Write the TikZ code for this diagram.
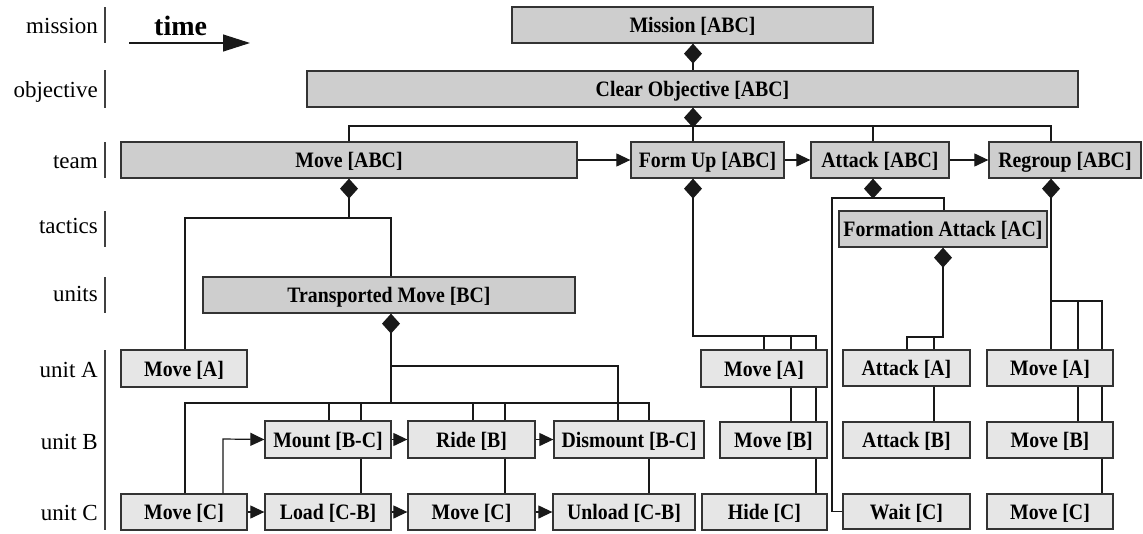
\documentclass[tikz,border=0pt]{standalone}
\usepackage{fontspec}
\setmainfont{Liberation Serif}
\newfontfamily\boxfont[FakeStretch=0.9]{Liberation Serif}
\usetikzlibrary{arrows.meta}
\definecolor{darkfill}{HTML}{CECECE}
\definecolor{lightfill}{HTML}{E6E6E6}
\definecolor{edge}{HTML}{333333}
\newcommand\mkbox[7]{\node[#6, minimum width={#4-#2}, minimum height={#5-#3}] (#1) at ({(#2+#4)/2},{(#3+#5)/2}) {#7};}
\begin{document}
\begin{tikzpicture}[x=1pt,y=-1pt,
  box/.style={draw=edge, line width=1.3pt, inner sep=0pt, text height=15pt, text depth=0pt, font=\boxfont\fontsize{22}{26}\selectfont\bfseries},
  dbox/.style={box, fill=darkfill},
  lbox/.style={box, fill=lightfill},
  conn/.style={line width=1.2pt, draw=black!90},
  dia/.style={conn, {Diamond[length=20pt,width=18pt]}-},
  arr/.style={conn, -{Triangle[length=14pt,width=13pt]}},
  lvl/.style={anchor=base east, inner sep=0pt, font=\fontsize{23}{26}\selectfont},
  lvlbar/.style={line width=1.6pt, draw=black!75}]
\useasboundingbox (0,0) rectangle (1143,533);

% level labels
\node[lvl] (lmission) at (98,33) {mission};
\node[lvl] (lobjective) at (98,97) {objective};
\node[lvl] (lteam) at (98,168) {team};
\node[lvl] (ltactics) at (98,233) {tactics};
\node[lvl] (lunits) at (98,301) {units};
\node[lvl] (lunitA) at (98,377) {unit A};
\node[lvl] (lunitB) at (98,449) {unit B};
\node[lvl] (lunitC) at (98,520) {unit C};
\draw[lvlbar] (105,7) -- (105,43);
\draw[lvlbar] (105,70) -- (105,108);
\draw[lvlbar] (105,142) -- (105,178);
\draw[lvlbar] (105,211) -- (105,247);
\draw[lvlbar] (105,277) -- (105,313);
\draw[lvlbar] (105,350) -- (105,530);

% time arrow
\node[anchor=base west, inner sep=0pt, font=\fontsize{28}{30}\selectfont\bfseries] (time) at (154,35) {time};
\coordinate (t0) at (129,43);
\coordinate (t1) at (250,43);
\draw[conn, -{Triangle[length=27pt,width=17pt]}] (t0) -- (t1);

% dark boxes
\mkbox{mission}{512}{7}{873}{43}{dbox}{Mission [ABC]}
\mkbox{clear}{307}{71}{1078}{107}{dbox}{Clear Objective [ABC]}
\mkbox{moveABC}{121}{142}{577}{178}{dbox}{Move [ABC]}
\mkbox{formup}{631}{142}{784}{178}{dbox}{Form Up [ABC]}
\mkbox{attackABC}{811}{142}{949}{178}{dbox}{Attack [ABC]}
\mkbox{regroup}{989}{142}{1141}{178}{dbox}{Regroup [ABC]}
\mkbox{formatt}{839}{211}{1047}{247}{dbox}{Formation Attack [AC]}
\mkbox{transp}{203}{277}{575}{313}{dbox}{Transported Move [BC]}

% light boxes
\mkbox{moveA1}{121}{350}{247}{387}{lbox}{Move [A]}
\mkbox{moveC1}{121}{494}{247}{530}{lbox}{Move [C]}
\mkbox{mount}{265}{421}{391}{458}{lbox}{Mount [B-C]}
\mkbox{load}{265}{494}{391}{530}{lbox}{Load [C-B]}
\mkbox{ride}{408}{421}{535}{458}{lbox}{Ride [B]}
\mkbox{moveC2}{408}{494}{535}{530}{lbox}{Move [C]}
\mkbox{dismount}{554}{421}{704}{458}{lbox}{Dismount [B-C]}
\mkbox{unload}{553}{494}{695}{530}{lbox}{Unload [C-B]}
\mkbox{moveA2}{701}{350}{827}{387}{lbox}{Move [A]}
\mkbox{moveB2}{720}{422}{827}{458}{lbox}{Move [B]}
\mkbox{hide}{702}{494}{827}{530}{lbox}{Hide [C]}
\mkbox{attackA}{843}{350}{970}{386}{lbox}{Attack [A]}
\mkbox{attackB}{843}{422}{970}{458}{lbox}{Attack [B]}
\mkbox{wait}{843}{494}{970}{529}{lbox}{Wait [C]}
\mkbox{moveA3}{987}{350}{1113}{386}{lbox}{Move [A]}
\mkbox{moveB3}{987}{422}{1113}{458}{lbox}{Move [B]}
\mkbox{moveC3}{987}{494}{1113}{529}{lbox}{Move [C]}

% mission -> objective
\draw[dia] (mission.south -| 693,0) -- (clear.north -| 693,0);
% objective -> team
\draw[dia] (clear.south -| 693,0) -- (formup.north -| 693,0);
\draw[conn] (moveABC.north -| 349,0) -- (349,126) -- (1051,126) -- (regroup.north -| 1051,0);
\draw[conn] (attackABC.north -| 873,0) -- (873,126);
% team sequence
\draw[arr] (moveABC.east) -- (formup.west);
\draw[arr] (formup.east) -- (attackABC.west);
\draw[arr] (attackABC.east) -- (regroup.west);

% Move [ABC] subtree
\draw[dia] (moveABC.south -| 349,0) -- (349,218);
\draw[conn] (moveA1.north -| 185,0) -- (185,218) -- (391,218) -- (transp.north -| 391,0);
\draw[dia] (transp.south -| 391,0) -- (391,403);
\draw[conn] (moveC1.north -| 185,0) -- (185,403) -- (649,403) -- (dismount.north -| 649,0);
\draw[conn] (391,366) -- (618,366) -- (dismount.north -| 618,0);
\draw[conn] (mount.north -| 329,0) -- (329,403);
\draw[conn] (mount.north -| 361,0) -- (361,403);
\draw[conn] (ride.north -| 473,0) -- (473,403);
\draw[conn] (ride.north -| 505,0) -- (505,403);
\draw[arr] (moveC1.north -| 223,0) -- (223,439) -- (mount.west);
\draw[conn] (mount.south -| 361,0) -- (load.north -| 361,0);
\draw[conn] (ride.south -| 505,0) -- (moveC2.north -| 505,0);
\draw[conn] (dismount.south -| 649,0) -- (unload.north -| 649,0);
\draw[arr] (moveC1.east) -- (load.west);
\draw[arr] (load.east) -- (moveC2.west);
\draw[arr] (moveC2.east) -- (unload.west);
\draw[arr] (mount.east) -- (ride.west);
\draw[arr] (ride.east) -- (dismount.west);

% Form Up subtree
\draw[dia] (formup.south -| 693,0) -- (693,336) -- (816,336) -- (moveA2.north -| 816,0);
\draw[conn] (moveA2.north -| 764,0) -- (764,336);
\draw[conn] (moveA2.north -| 791,0) -- (791,336);
\draw[conn] (moveA2.south -| 791,0) -- (moveB2.north -| 791,0);
\draw[conn] (moveA2.south -| 816,0) -- (moveB2.north -| 816,0);
\draw[conn] (moveB2.south -| 816,0) -- (hide.north -| 816,0);

% Attack subtree
\draw[dia] (attackABC.south -| 873,0) -- (873,198);
\draw[conn] (wait.west) -- (832,511.5) -- (832,198) -- (944,198) -- (formatt.north -| 944,0);
\draw[dia] (formatt.south -| 943,0) -- (943,337) -- (907,337) -- (attackA.north -| 907,0);
\draw[conn] (attackA.north -| 934,0) -- (934,337);
\draw[conn] (attackA.south -| 934,0) -- (attackB.north -| 934,0);

% Regroup subtree
\draw[dia] (regroup.south -| 1051,0) -- (moveA3.north -| 1051,0);
\draw[conn] (1051,301) -- (1102,301) -- (moveA3.north -| 1102,0);
\draw[conn] (moveA3.north -| 1078,0) -- (1078,301);
\draw[conn] (moveA3.south -| 1078,0) -- (moveB3.north -| 1078,0);
\draw[conn] (moveA3.south -| 1102,0) -- (moveB3.north -| 1102,0);
\draw[conn] (moveB3.south -| 1102,0) -- (moveC3.north -| 1102,0);
\end{tikzpicture}
\end{document}
